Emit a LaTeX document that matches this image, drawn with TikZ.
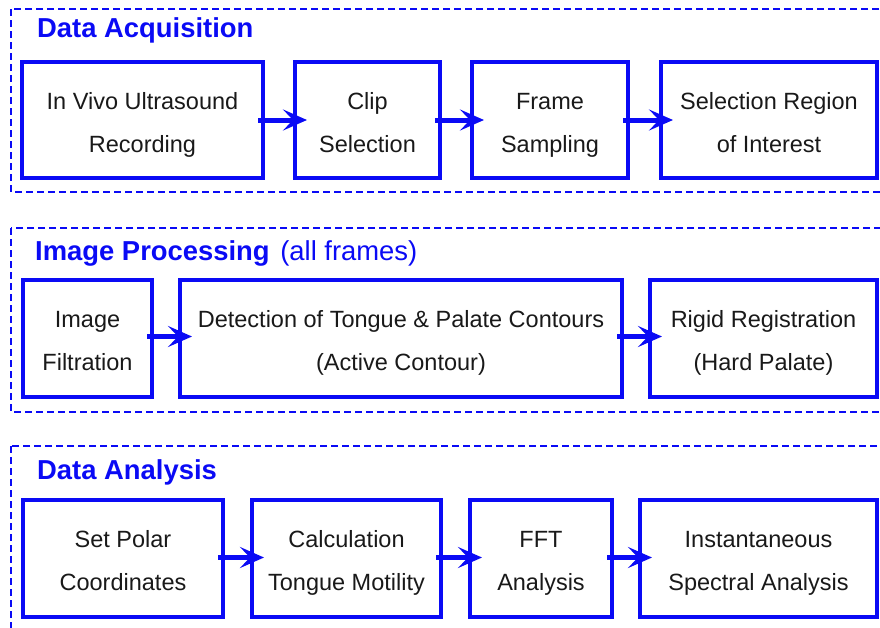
\documentclass[tikz,border=0pt]{standalone}
\usepackage{fontspec}
\setmainfont{Liberation Sans}
\usetikzlibrary{arrows.meta}
\definecolor{dblue}{RGB}{10,10,245}
\definecolor{ink}{RGB}{25,25,25}
\newcommand\topst{\rule{0pt}{26pt}}
\newcommand\botst{\rule[-5pt]{0pt}{5pt}}
\tikzset{
  stepbox/.style={draw=dblue, line width=4pt, rectangle, inner sep=0pt, align=center,
    text=ink, font=\fontsize{23.5}{43}\selectfont},
  group/.style={draw=dblue, line width=2pt, dash pattern=on 7pt off 4pt},
  gtitle/.style={anchor=west, inner sep=0pt, text=dblue, font=\fontsize{27.4}{30}\selectfont\bfseries},
  flow/.style={draw=dblue, line width=5pt, -{Stealth[length=24pt, width=21pt, inset=10pt]}}
}
\begin{document}
\begin{tikzpicture}[x=1pt,y=-1pt]
\useasboundingbox (0,0) rectangle (880,627);
% group frames
\draw[group] (11,9) rectangle (900,192);
\draw[group] (11,228) rectangle (900,412);
\draw[group] (11,446) rectangle (900,650);
% titles
\node[gtitle] (t1) at (37,30.5) {Data Acquisition};
\node[gtitle] (t2) at (35,253) {Image Processing\hspace{3pt} \mdseries(all frames)};
\node[gtitle] (t3) at (37,472.5) {Data Analysis};
% row 1
\node[stepbox, minimum width=241pt, minimum height=116pt] (b1) at (142.5,120) {\topst In Vivo Ultrasound\\Recording\botst};
\node[stepbox, minimum width=145pt, minimum height=116pt] (b2) at (367.5,120) {\topst Clip\\Selection\botst};
\node[stepbox, minimum width=156pt, minimum height=116pt] (b3) at (550,120) {\topst Frame\\Sampling\botst};
\node[stepbox, minimum width=216pt, minimum height=116pt] (b4) at (769,120) {\topst Selection Region\\of Interest\botst};
% row 2
\node[stepbox, minimum width=129pt, minimum height=117pt] (b5) at (87.5,338.5) {\topst Image\\Filtration\botst};
\node[stepbox, minimum width=442pt, minimum height=117pt] (b6) at (401,338.5) {\topst Detection of Tongue \& Palate Contours\\(Active Contour)\botst};
\node[stepbox, minimum width=227pt, minimum height=117pt] (b7) at (763.5,338.5) {\topst Rigid Registration\\(Hard Palate)\botst};
% row 3
\node[stepbox, minimum width=200pt, minimum height=117pt] (b8) at (123,558.5) {\topst Set Polar\\Coordinates\botst};
\node[stepbox, minimum width=189pt, minimum height=117pt] (b9) at (346.5,558.5) {\topst Calculation\\Tongue Motility\botst};
\node[stepbox, minimum width=142pt, minimum height=117pt] (b10) at (541,558.5) {\topst FFT\\Analysis\botst};
\node[stepbox, minimum width=237pt, minimum height=117pt] (b11) at (758.5,558.5) {\topst Instantaneous\\Spectral Analysis\botst};
% arrows
\draw[flow] ([xshift=-7pt]b1.east) -- ([xshift=14pt]b2.west);
\draw[flow] ([xshift=-7pt]b2.east) -- ([xshift=14pt]b3.west);
\draw[flow] ([xshift=-7pt]b3.east) -- ([xshift=14pt]b4.west);
\draw[flow] ([xshift=-7pt,yshift=2pt]b5.east) -- ([xshift=14pt,yshift=2pt]b6.west);
\draw[flow] ([xshift=-7pt,yshift=2pt]b6.east) -- ([xshift=14pt,yshift=2pt]b7.west);
\draw[flow] ([xshift=-7pt,yshift=1pt]b8.east) -- ([xshift=14pt,yshift=1pt]b9.west);
\draw[flow] ([xshift=-7pt,yshift=1pt]b9.east) -- ([xshift=14pt,yshift=1pt]b10.west);
\draw[flow] ([xshift=-7pt,yshift=1pt]b10.east) -- ([xshift=14pt,yshift=1pt]b11.west);
\end{tikzpicture}
\end{document}
